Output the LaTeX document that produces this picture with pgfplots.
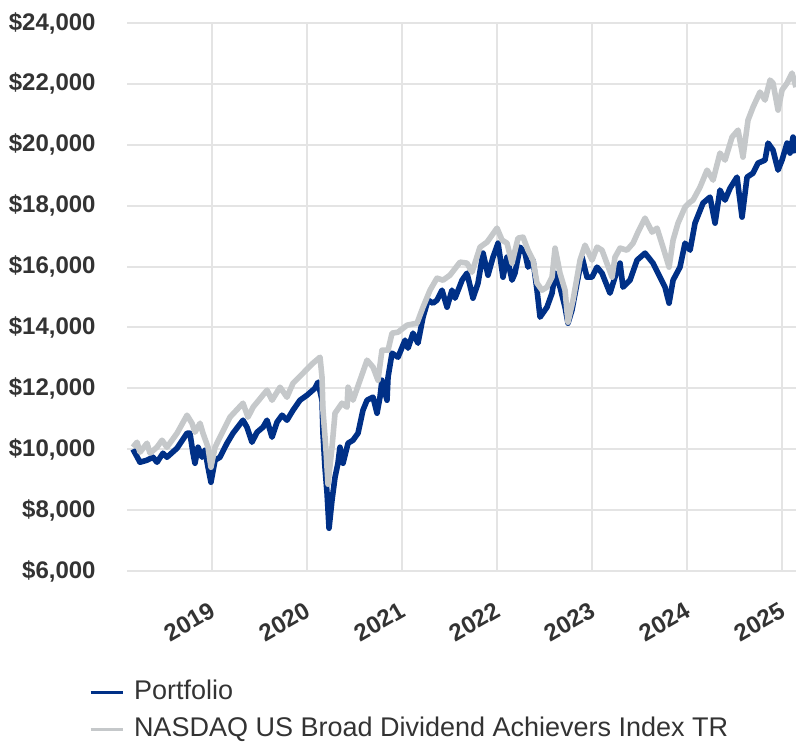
\documentclass[border=0pt]{standalone}
\usepackage{pgfplots}
\pgfplotsset{compat=1.18}
\usepackage{fontspec}
\setmainfont{Liberation Sans}
\definecolor{navy}{RGB}{0,48,135}
\definecolor{lgray}{RGB}{197,200,202}
\definecolor{gridc}{RGB}{228,228,228}
\definecolor{txt}{RGB}{51,51,51}
\begin{document}
\begin{tikzpicture}
\begin{axis}[
  scale only axis,
  width=334.5pt, height=274pt,
  xmin=2018.1053, xmax=2025.147,
  ymin=6000, ymax=24000,
  scaled y ticks=false, scaled x ticks=false,
  axis line style={draw=none},
  major tick length=0pt,
  grid=major,
  major grid style={gridc, line width=1pt},
  xtick={2019,2020,2021,2022,2023,2024,2025},
  xticklabels={2019,2020,2021,2022,2023,2024,2025},
  ytick={6000,8000,10000,12000,14000,16000,18000,20000,22000,24000},
  yticklabels={{\$6,000},{\$8,000},{\$10,000},{\$12,000},{\$14,000},{\$16,000},{\$18,000},{\$20,000},{\$22,000},{\$24,000}},
  tick label style={font=\bfseries\fontsize{12}{14}\selectfont, text=txt},
  yticklabel style={anchor=east, inner sep=0pt, xshift=-15.5pt},
  xticklabel style={yshift=-18.5pt, xshift=0.5pt, rotate=30, anchor=east, inner sep=0pt},
  legend style={draw=none, fill=none, inner sep=0pt, outer sep=0pt,
    at={(-0.0568,-0.1989)}, anchor=north west,
    font=\fontsize{13.5}{16}\selectfont, text=txt,
    nodes={inner xsep=0pt, inner ysep=0pt, text height=10pt, text depth=3pt},
    row sep=5.5pt, column sep=5pt},
  legend cell align=left,
  legend image code/.code={\draw[#1, line width=1.5pt] (0pt,0pt) -- (16pt,0pt);},
]
\addplot[navy, line width=2.8pt, line join=round] coordinates {
(2018.168,10000) (2018.242,9573) (2018.316,9639) (2018.379,9737) (2018.421,9573)
(2018.484,9869) (2018.526,9737) (2018.632,10033) (2018.737,10526) (2018.768,10526)
(2018.800,9869) (2018.821,9540) (2018.853,10066) (2018.895,9737) (2018.926,9967)
(2018.958,9409) (2018.989,8916) (2019.032,9639) (2019.084,9737) (2019.158,10197)
(2019.221,10526) (2019.326,10953) (2019.368,10723) (2019.421,10230) (2019.474,10559)
(2019.537,10723) (2019.579,10953) (2019.632,10394) (2019.684,10887) (2019.737,11117)
(2019.789,10953) (2019.853,11282) (2019.926,11610) (2020.000,11774) (2020.084,12004)
(2020.116,12202) (2020.158,11610) (2020.168,10526) (2020.189,9409) (2020.211,8554)
(2020.232,7404) (2020.263,8324) (2020.295,9080) (2020.326,9540) (2020.347,10066)
(2020.379,9540) (2020.432,10197) (2020.484,10296) (2020.537,10526) (2020.589,11282)
(2020.632,11610) (2020.695,11709) (2020.737,11183) (2020.768,11709) (2020.789,12267)
(2020.842,11610) (2020.853,12366) (2020.895,13155) (2020.958,13023) (2021.032,13582)
(2021.063,13319) (2021.116,13812) (2021.168,13483) (2021.221,14338) (2021.274,14896)
(2021.326,14798) (2021.368,14896) (2021.421,15225) (2021.474,14666) (2021.526,15225)
(2021.558,14962) (2021.632,15553) (2021.684,15783) (2021.747,14962) (2021.800,15455)
(2021.853,16441) (2021.905,15718) (2021.958,16309) (2022.011,16769) (2022.063,15652)
(2022.105,16309) (2022.158,15553) (2022.189,15783) (2022.242,16638) (2022.295,16441)
(2022.326,15981) (2022.379,16211) (2022.421,15225) (2022.453,14338) (2022.526,14666)
(2022.579,15126) (2022.611,15783) (2022.663,15323) (2022.716,14666) (2022.747,14140)
(2022.789,14568) (2022.842,15455) (2022.895,16309) (2022.947,15652) (2023.000,15652)
(2023.053,15981) (2023.105,15783) (2023.189,15126) (2023.242,15652) (2023.295,16112)
(2023.326,15323) (2023.400,15553) (2023.474,16211) (2023.558,16441) (2023.642,16112)
(2023.716,15652) (2023.768,15323) (2023.811,14798) (2023.853,15553) (2023.926,15981)
(2023.979,16769) (2024.032,16539) (2024.084,17426) (2024.168,18084) (2024.242,18281)
(2024.295,17426) (2024.347,18511) (2024.400,18182) (2024.453,18576) (2024.526,18938)
(2024.579,17624) (2024.632,18938) (2024.695,19069) (2024.747,19398) (2024.821,19497)
(2024.853,20055) (2024.905,19825) (2024.958,19168) (2025.000,19497) (2025.053,20055)
(2025.084,19727) (2025.116,20252) (2025.147,19727)
};
\addlegendentry{Portfolio}
\addplot[lgray, line width=2.8pt, line join=round] coordinates {
(2018.168,10066) (2018.211,10230) (2018.242,9901) (2018.316,10197) (2018.347,9869)
(2018.421,10066) (2018.474,10296) (2018.526,10066) (2018.632,10526) (2018.737,11117)
(2018.789,10854) (2018.821,10559) (2018.874,10854) (2018.905,10526) (2018.958,10066)
(2018.989,9409) (2019.032,10066) (2019.105,10526) (2019.189,11052) (2019.326,11512)
(2019.379,11052) (2019.432,11380) (2019.579,11939) (2019.632,11610) (2019.716,12037)
(2019.789,11709) (2019.853,12169) (2019.958,12497) (2020.063,12826) (2020.137,13023)
(2020.158,12366) (2020.168,11282) (2020.200,9967) (2020.221,8850) (2020.263,10066)
(2020.295,11183) (2020.368,11512) (2020.421,11380) (2020.432,12037) (2020.484,11610)
(2020.558,12267) (2020.632,12925) (2020.695,12695) (2020.747,12267) (2020.789,13253)
(2020.853,13253) (2020.895,13812) (2020.958,13845) (2021.053,14075) (2021.158,14140)
(2021.221,14666) (2021.295,15225) (2021.368,15619) (2021.432,15553) (2021.505,15718)
(2021.611,16145) (2021.684,16112) (2021.737,15816) (2021.821,16638) (2021.895,16802)
(2022.000,17262) (2022.053,16868) (2022.105,16769) (2022.158,16112) (2022.221,16933)
(2022.274,16966) (2022.326,16539) (2022.379,16211) (2022.421,15455) (2022.474,15225)
(2022.526,15323) (2022.579,15652) (2022.611,16605) (2022.663,15783) (2022.716,15225)
(2022.747,14173) (2022.800,14896) (2022.874,16211) (2022.926,16703) (2023.000,16211)
(2023.053,16638) (2023.105,16539) (2023.211,15652) (2023.242,16309) (2023.295,16605)
(2023.368,16539) (2023.432,16769) (2023.484,17131) (2023.558,17591) (2023.632,17131)
(2023.684,17262) (2023.747,16638) (2023.811,15981) (2023.853,16868) (2023.905,17426)
(2023.979,17952) (2024.032,18116) (2024.063,18182) (2024.137,18609) (2024.211,19168)
(2024.274,18839) (2024.347,19727) (2024.400,19497) (2024.474,20252) (2024.537,20482)
(2024.589,19595) (2024.642,20811) (2024.695,21238) (2024.768,21731) (2024.821,21468)
(2024.874,22125) (2024.905,22027) (2024.958,21140) (2025.000,21797) (2025.053,22027)
(2025.105,22355) (2025.147,21895)
};
\addlegendentry{NASDAQ US Broad Dividend Achievers Index TR}
\end{axis}
\pgfresetboundingbox
\path[use as bounding box] (current axis.south west) ++(-63.5pt,-85.5pt) rectangle ++(398pt,371pt);
\end{tikzpicture}
\end{document}
